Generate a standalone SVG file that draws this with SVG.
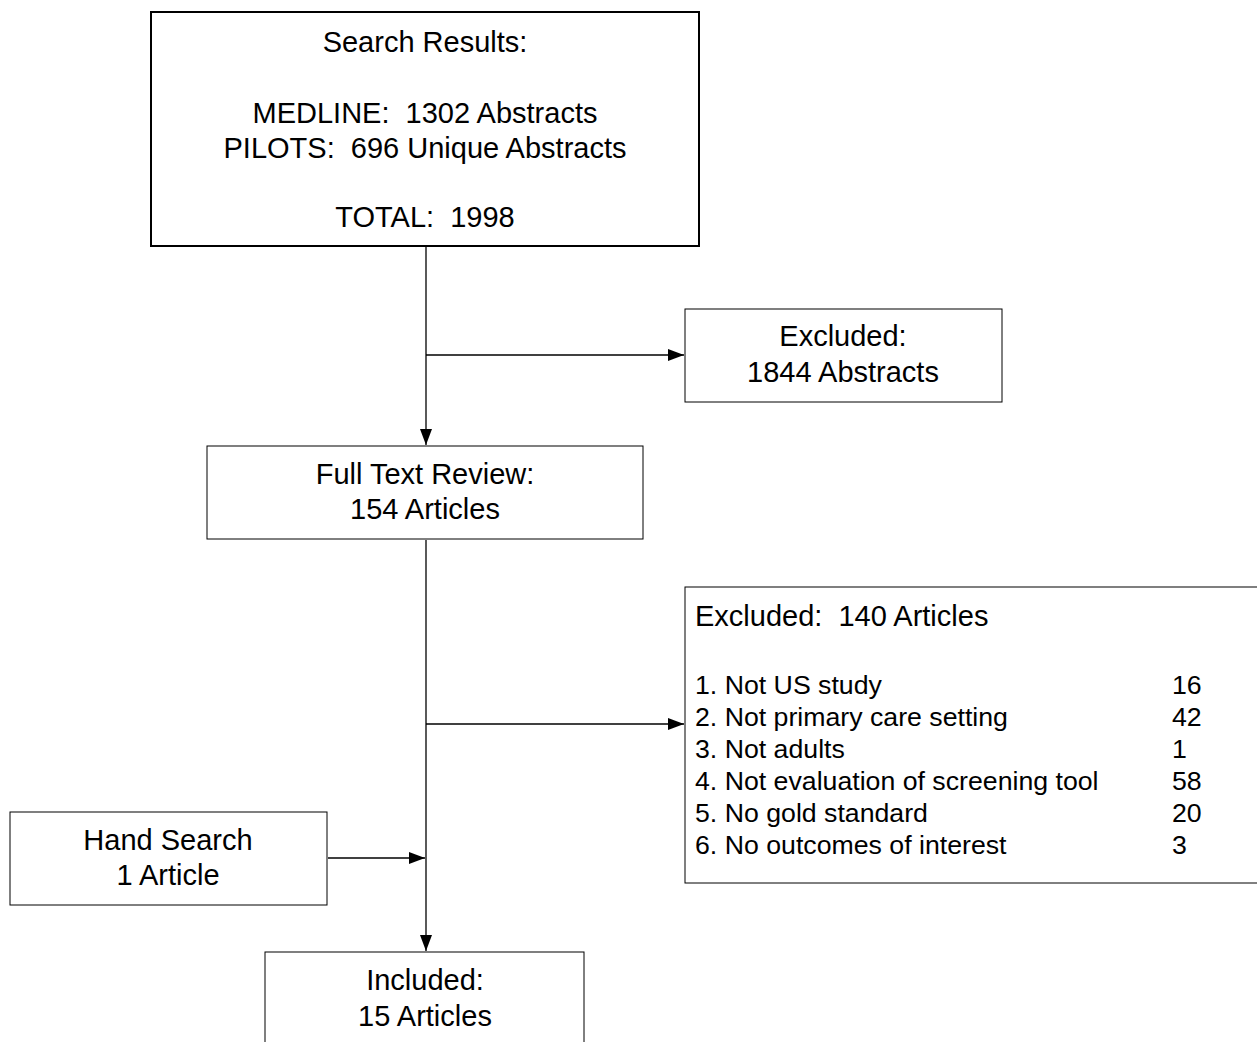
<svg xmlns="http://www.w3.org/2000/svg" width="1257" height="1042" viewBox="0 0 1257 1042">
<defs>
<style>
.box{fill:#fff;stroke:#000;stroke-width:1}
.thick{stroke-width:2}
text{font-family:"Liberation Sans",Arial,sans-serif;font-size:29px;fill:#000;white-space:pre}
.c{text-anchor:middle}
.s{font-size:26.7px}
.line{stroke:#000;stroke-width:1.3;fill:none}
</style>
<marker id="arr" viewBox="0 0 16 12" refX="16" refY="6" markerWidth="16" markerHeight="12" markerUnits="userSpaceOnUse" orient="auto">
<path d="M0,0 L16,6 L0,12 Z" fill="#000"/>
</marker>
</defs>
<rect width="1257" height="1042" fill="#fff"/>
<g id="connectors">
<line class="line" x1="426" y1="247" x2="426" y2="445" marker-end="url(#arr)"/>
<line class="line" x1="426" y1="355" x2="684" y2="355" marker-end="url(#arr)"/>
<line class="line" x1="426" y1="540" x2="426" y2="951" marker-end="url(#arr)"/>
<line class="line" x1="426" y1="724" x2="684" y2="724" marker-end="url(#arr)"/>
<line class="line" x1="328" y1="858" x2="425" y2="858" marker-end="url(#arr)"/>
</g>
<g id="search-results">
<rect class="box thick" x="151" y="12" width="548" height="234"/>
<text class="c" x="425" y="52">Search Results:</text>
<text class="c" x="425" y="123" xml:space="preserve">MEDLINE:  1302 Abstracts</text>
<text class="c" x="425" y="158" xml:space="preserve">PILOTS:  696 Unique Abstracts</text>
<text class="c" x="425" y="227" xml:space="preserve">TOTAL:  1998</text>
</g>
<g id="excluded-abstracts">
<rect class="box" x="685" y="309" width="317" height="93"/>
<text class="c" x="843" y="346">Excluded:</text>
<text class="c" x="843" y="382">1844 Abstracts</text>
</g>
<g id="full-text-review">
<rect class="box" x="207" y="446" width="436" height="93"/>
<text class="c" x="425" y="484">Full Text Review:</text>
<text class="c" x="425" y="519">154 Articles</text>
</g>
<g id="excluded-articles">
<rect class="box" x="685" y="587" width="590" height="296"/>
<text x="695" y="626" xml:space="preserve">Excluded:  140 Articles</text>
<text class="s" x="695" y="694">1. Not US study</text>
<text class="s" x="695" y="726">2. Not primary care setting</text>
<text class="s" x="695" y="758">3. Not adults</text>
<text class="s" x="695" y="790">4. Not evaluation of screening tool</text>
<text class="s" x="695" y="822">5. No gold standard</text>
<text class="s" x="695" y="854">6. No outcomes of interest</text>
<text class="s" x="1172" y="694">16</text>
<text class="s" x="1172" y="726">42</text>
<text class="s" x="1172" y="758">1</text>
<text class="s" x="1172" y="790">58</text>
<text class="s" x="1172" y="822">20</text>
<text class="s" x="1172" y="854">3</text>
</g>
<g id="hand-search">
<rect class="box" x="10" y="812" width="317" height="93"/>
<text class="c" x="168" y="850">Hand Search</text>
<text class="c" x="168" y="885">1 Article</text>
</g>
<g id="included">
<rect class="box" x="265" y="952" width="319" height="120"/>
<text class="c" x="425" y="990">Included:</text>
<text class="c" x="425" y="1026">15 Articles</text>
</g>
</svg>
